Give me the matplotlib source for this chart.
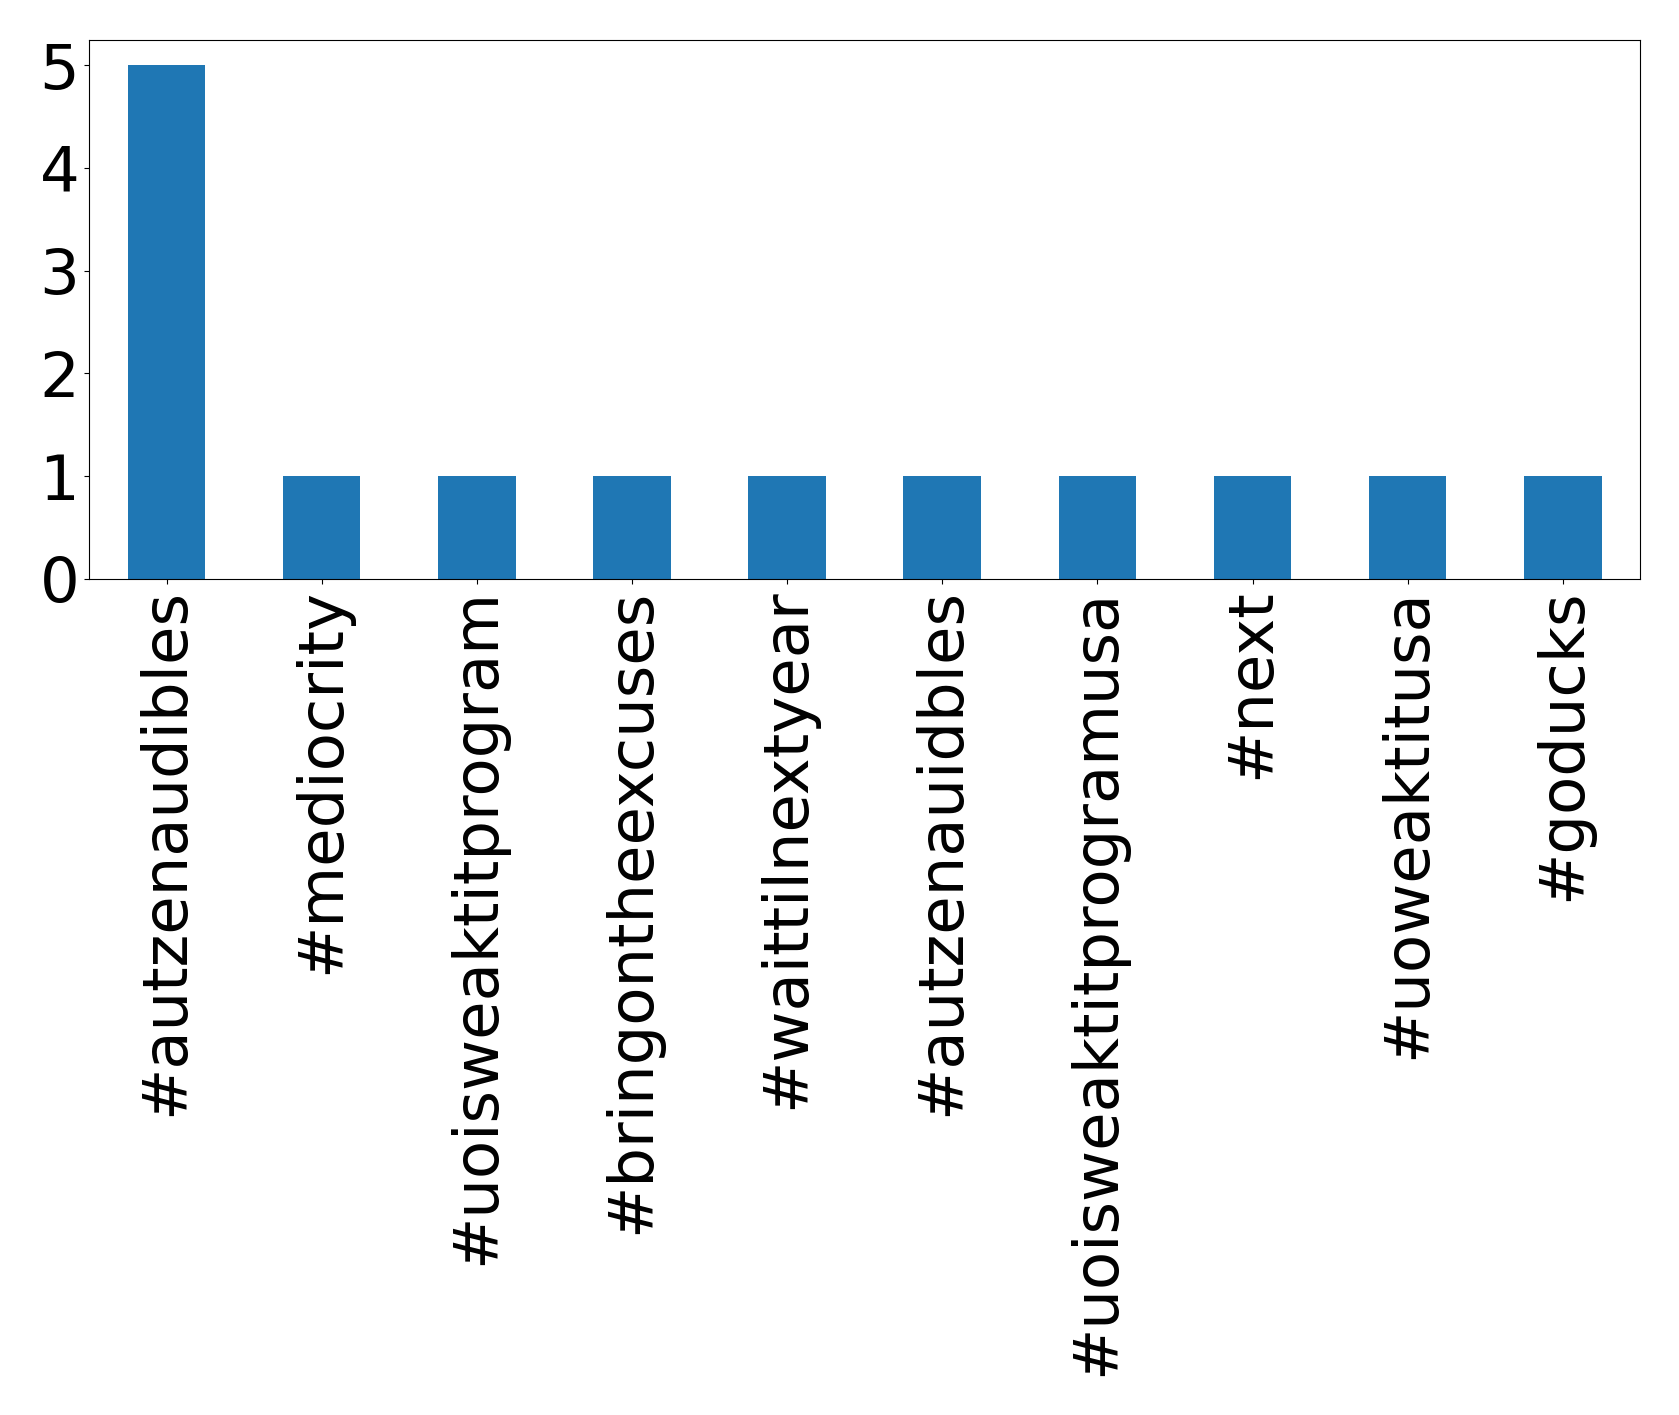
import matplotlib
matplotlib.use("Agg")
import matplotlib.pyplot as plt

categories = ["#autzenaudibles", "#mediocrity", "#uoisweaktitprogram", "#bringontheexcuses",
              "#waittilnextyear", "#autzenauidbles", "#uoisweaktitprogramusa", "#next",
              "#uoweaktitusa", "#goducks"]
counts = [5, 1, 1, 1, 1, 1, 1, 1, 1, 1]

fig = plt.figure(figsize=(16.79, 14.15), dpi=100)
ax = fig.add_axes([0.053, 0.591, 0.924, 0.381])
x = range(len(categories))
ax.bar(x, counts, width=0.5, color="#1f77b4")
ax.set_xlim(-0.5, len(categories) - 0.5)
ax.set_ylim(0, 5.25)
ax.set_xticks(list(x))
ax.set_xticklabels(categories, rotation=90, fontsize=45)
ax.set_yticks([0, 1, 2, 3, 4, 5])
ax.tick_params(axis='y', labelsize=45)
fig.savefig("out.png", dpi=100)
